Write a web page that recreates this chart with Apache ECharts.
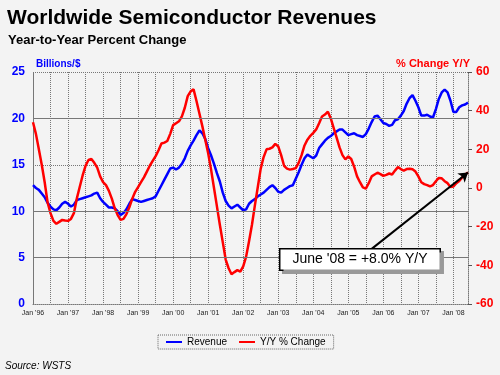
<!DOCTYPE html>
<html>
<head>
<meta charset="utf-8">
<script src="https://cdn.jsdelivr.net/npm/echarts@6/dist/echarts.min.js"></script>
<style>
  html, body { margin: 0; padding: 0; background: #f3f3f3; }
  #chart { width: 500px; height: 375px; }
</style>
</head>
<body>
<div id="chart"></div>
<script>
var years = ["96", "97", "98", "99", "00", "01", "02", "03", "04", "05", "06", "07", "08"];
var monthNames = ["Jan", "Feb", "Mar", "Apr", "May", "Jun", "Jul", "Aug", "Sep", "Oct", "Nov", "Dec"];

// Billions of $, Jan '96 .. Jun '08
var revenue = [
  12.8, 12.5, 12.3, 11.9, 11.5, 10.9, 10.5, 10.2, 10.1, 10.4, 10.8, 11.0,
  10.8, 10.5, 10.7, 11.2, 11.3, 11.4, 11.5, 11.6, 11.7, 11.9, 12.0, 11.4,
  11.0, 10.7, 10.4, 10.4, 10.3, 10.0, 9.6, 9.8, 10.2, 10.8, 11.3, 11.2,
  11.1, 11.0, 11.1, 11.2, 11.3, 11.4, 11.6, 12.2, 12.8, 13.4, 14.0, 14.6,
  14.7, 14.5, 14.7, 15.1, 15.7, 16.5, 17.1, 17.6, 18.2, 18.7, 18.4, 17.8,
  16.8, 16.0, 15.1, 14.1, 13.2, 12.0, 11.1, 10.6, 10.3, 10.5, 10.7, 10.4,
  10.1, 10.2, 10.8, 11.1, 11.3, 11.6, 11.8, 12.0, 12.3, 12.6, 12.8, 12.5,
  12.1, 12.0, 12.3, 12.5, 12.7, 12.8, 13.5, 14.2, 15.0, 15.7, 16.1, 15.9,
  15.7, 16.0, 16.8, 17.2, 17.6, 17.9, 18.1, 18.4, 18.6, 18.8, 18.8, 18.5,
  18.2, 18.3, 18.4, 18.2, 18.1, 18.0, 18.3, 18.9, 19.6, 20.2, 20.3, 19.9,
  19.5, 19.4, 19.2, 19.3, 19.8, 19.9, 20.3, 20.8, 21.6, 22.2, 22.5, 21.9,
  21.2, 20.3, 20.3, 20.4, 20.2, 20.1, 21.0, 22.1, 22.8, 23.1, 22.8, 21.9,
  20.7, 20.7, 21.2, 21.4, 21.5, 21.7
];

// Year-to-year % change
var yoy = [
  34.0, 28, 20, 12, 3, -7.5, -13, -17, -18.5, -17.5, -16.5, -16.8,
  -17, -16, -13, -5.5, 0.5, 6.5, 11.5, 14.5, 15.0, 13, 10.5, 6,
  3, 1.5, -1.5, -5.5, -10.5, -14, -16.5, -16, -13.5, -10, -5.5, -2,
  0.5, 3, 5.5, 8.5, 11.5, 14, 16.5, 19.5, 23, 23.5, 24.3, 28,
  32.5, 33.5, 34.5, 37, 41.5, 47.5, 50, 51, 45, 38.5, 32, 25,
  18, 9.5, 0, -9.5, -19, -28, -37, -41.5, -44.6, -43.5, -42.5, -43.3,
  -40.5, -35.5, -27.5, -19, -9, 0.5, 10, 16, 20, 20.3, 21, 22.8,
  21.5, 17, 11.5, 10, 9.5, 9.8, 10.3, 13, 17, 22, 25, 27,
  28.5, 30.3, 33.5, 37, 38, 39.5, 36, 31, 26, 21, 17, 14.8,
  16.3, 15, 11, 6, 3, 0.3, -0.3, 2.5, 6, 7, 7.9, 7.2,
  6.3, 6.8, 7.5, 7, 9, 10.8, 9.8, 9, 9.8, 10, 9.7, 8.5,
  6, 3, 2, 1.5, 0.8, 1.5, 3.5, 5.2, 5, 3.5, 2.5, 0.5,
  0.8, 2.5, 3.6, 5.5, 7, 8
];

var categories = [];
for (var y = 0; y < years.length; y++) {
  for (var m = 0; m < 12; m++) {
    if (categories.length < revenue.length) categories.push(monthNames[m] + " '" + years[y]);
  }
}

var chart = echarts.init(document.getElementById('chart'));

var option = {
  backgroundColor: '#f3f3f3',
  animation: false,
  title: [
    { text: 'Worldwide Semiconductor Revenues', left: 2, top: 3,
      textStyle: { fontFamily: 'Liberation Sans', fontSize: 21, fontWeight: 'bold', color: '#000' } },
    { text: 'Year-to-Year Percent Change', left: 3, top: 29,
      textStyle: { fontFamily: 'Liberation Sans', fontSize: 13, fontWeight: 'bold', color: '#000' } },
    { text: 'Billions/$', left: 31, top: 54,
      textStyle: { fontFamily: 'Liberation Sans', fontSize: 10, fontWeight: 'bold', color: '#0000ff' } },
    { text: '% Change Y/Y', right: 25, top: 53,
      textStyle: { fontFamily: 'Liberation Sans', fontSize: 11, fontWeight: 'bold', color: '#ff0000' } },
    { text: 'Source: WSTS', left: 0, top: 356,
      textStyle: { fontFamily: 'Liberation Sans', fontSize: 10, fontStyle: 'italic', fontWeight: 'normal', color: '#000' } }
  ],
  legend: {
    left: 158, top: 335,
    padding: [2, 8],
    borderColor: '#666', borderWidth: 1, borderType: 'dotted',
    itemWidth: 16, itemHeight: 2, itemGap: 12,
    icon: 'rect',
    textStyle: { fontFamily: 'Liberation Sans', fontSize: 10, color: '#000' },
    data: ['Revenue', 'Y/Y % Change']
  },
  grid: { left: 33, right: 32, top: 72, bottom: 71 },
  xAxis: {
    type: 'category',
    data: categories,
    boundaryGap: false,
    axisLine: { lineStyle: { color: '#777', type: 'dotted' } },
    axisTick: { show: false },
    axisLabel: {
      interval: 11, fontFamily: 'Liberation Sans', fontSize: 7, color: '#222', margin: 6
    },
    splitLine: { show: true, interval: 5, lineStyle: { color: '#777', type: 'dotted' } }
  },
  yAxis: [
    {
      type: 'value', min: 0, max: 25, interval: 5, position: 'left',
      axisLine: { show: true, lineStyle: { color: '#777', type: 'dotted' } },
      axisTick: { show: false },
      axisLabel: { color: '#0000ff', fontFamily: 'Liberation Sans', fontWeight: 'bold', fontSize: 12, margin: 8 },
      splitLine: { show: true, lineStyle: { color: '#777', type: 'dotted' } }
    },
    {
      type: 'value', min: -60, max: 60, interval: 20, position: 'right',
      axisLine: { show: true, lineStyle: { color: '#777', type: 'dotted' } },
      axisTick: { show: true, length: 4, lineStyle: { color: '#555' } },
      axisLabel: { color: '#ff0000', fontFamily: 'Liberation Sans', fontWeight: 'bold', fontSize: 12, margin: 8 },
      splitLine: { show: false }
    }
  ],
  series: [
    {
      name: 'Revenue', type: 'line', yAxisIndex: 0,
      data: revenue, symbol: 'none',
      lineStyle: { color: '#0000ff', width: 2.5 },
      itemStyle: { color: '#0000ff' },
      markLine: {
        silent: true, symbol: 'none', label: { show: false },
        lineStyle: { color: '#777', type: 'solid', width: 1.2 },
        data: [{ yAxis: 20 }, { yAxis: 10 }, { yAxis: 5 }]
      }
    },
    {
      name: 'Y/Y % Change', type: 'line', yAxisIndex: 1,
      data: yoy, symbol: 'none',
      lineStyle: { color: '#ff0000', width: 2.5 },
      itemStyle: { color: '#ff0000' },
      markLine: {
        silent: true, label: { show: false },
        symbol: ['none', 'arrow'], symbolSize: 9,
        lineStyle: { color: '#000', type: 'solid', width: 2 },
        data: [[{ coord: [116, -31.5] }, { coord: [149, 8] }]]
      },
      markPoint: {
        silent: true, symbol: 'rect', symbolSize: 1,
        itemStyle: { color: 'rgba(0,0,0,0)' },
        label: {
          show: true, position: 'inside',
          formatter: "June '08 = +8.0% Y/Y",
          fontFamily: 'Liberation Sans', fontSize: 14, color: '#000',
          backgroundColor: '#fff', borderColor: '#000', borderWidth: 1.5,
          padding: [3, 12],
          shadowColor: '#999', shadowOffsetX: 3, shadowOffsetY: 3
        },
        data: [{ coord: [111.5, -37] }]
      }
    }
  ]
};

chart.setOption(option);
</script>
</body>
</html>
